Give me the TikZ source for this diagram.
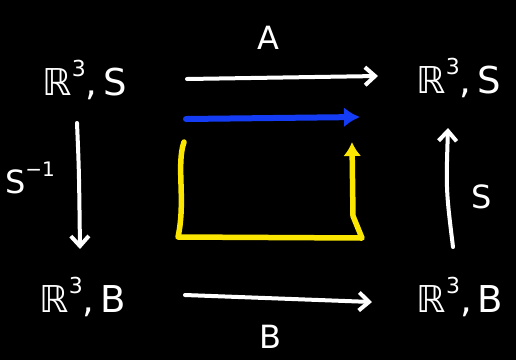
\documentclass[tikz,border=0pt]{standalone}
\usepackage{fontspec}
\setmainfont{DejaVu Sans}
\usetikzlibrary{arrows.meta}
\newcommand\cubesup{\raisebox{0.5em}{\fontsize{22}{22}\selectfont 3}}
\begin{document}
\begin{tikzpicture}[x=1pt,y=-1pt,
  space/.style={text=white, font=\fontsize{37}{37}\selectfont, inner sep=0pt},
  lab/.style={text=white, font=\fontsize{32}{32}\selectfont, inner sep=0pt},
  wline/.style={draw=white, line width=4pt, line cap=round,
    -{Straight Barb[length=10pt,width=18pt,line width=4pt]}},
  bline/.style={draw={rgb,255:red,20;green,60;blue,245}, line width=6pt, line cap=round,
    -{Latex[length=16pt,width=20pt]}},
  yline/.style={draw={rgb,255:red,250;green,230;blue,0}, line width=5.5pt, line cap=round, line join=round,
    -{Latex[length=14pt,width=18pt]}}
]
\fill[black] (0,0) rectangle (516,360);
\useasboundingbox (0,0) rectangle (516,360);

\node[space] (TL) at (85,80) {ℝ\cubesup,\,S};
\node[space] (TR) at (459,78) {ℝ\cubesup,\,S};
\node[space] (BL) at (83,297) {ℝ\cubesup,\,B};
\node[space] (BR) at (460,297) {ℝ\cubesup,\,B};

\node[lab] (la) at (268,38) {A};
\node[lab] (lb) at (270,337) {B};
\node[lab] (ls) at (482,197) {S};
\node[lab] (lsi) at (30,178) {S\raisebox{0.55em}{\fontsize{20}{20}\selectfont −1}};

% arrow end points
\coordinate (t1) at (187,79);
\coordinate (t2) at (378,76);
\coordinate (b1) at (185,295);
\coordinate (b2) at (372,302);
\coordinate (l1) at (77,123);
\coordinate (l2) at (80,249);
\coordinate (r1) at (453,247);
\coordinate (r2) at (448,128);
\coordinate (u1) at (186,119);
\coordinate (u2) at (360,117);
\coordinate (y1) at (184,142);
\coordinate (y2) at (178,237);
\coordinate (y3) at (362,238);
\coordinate (y4) at (353,216);
\coordinate (y5) at (352,142);

\draw[wline] (t1) -- (t2);
\draw[wline] (b1) -- (b2);
\draw[wline] (l1) .. controls (79,170) .. (l2);
\draw[wline] (r1) .. controls (446,190) .. (r2);
\draw[bline] (u1) -- (u2);
\draw[yline] (y1) .. controls (176,165) and (186,200) .. (y2) -- (y3) -- (y4) -- (y5);
\end{tikzpicture}
\end{document}
